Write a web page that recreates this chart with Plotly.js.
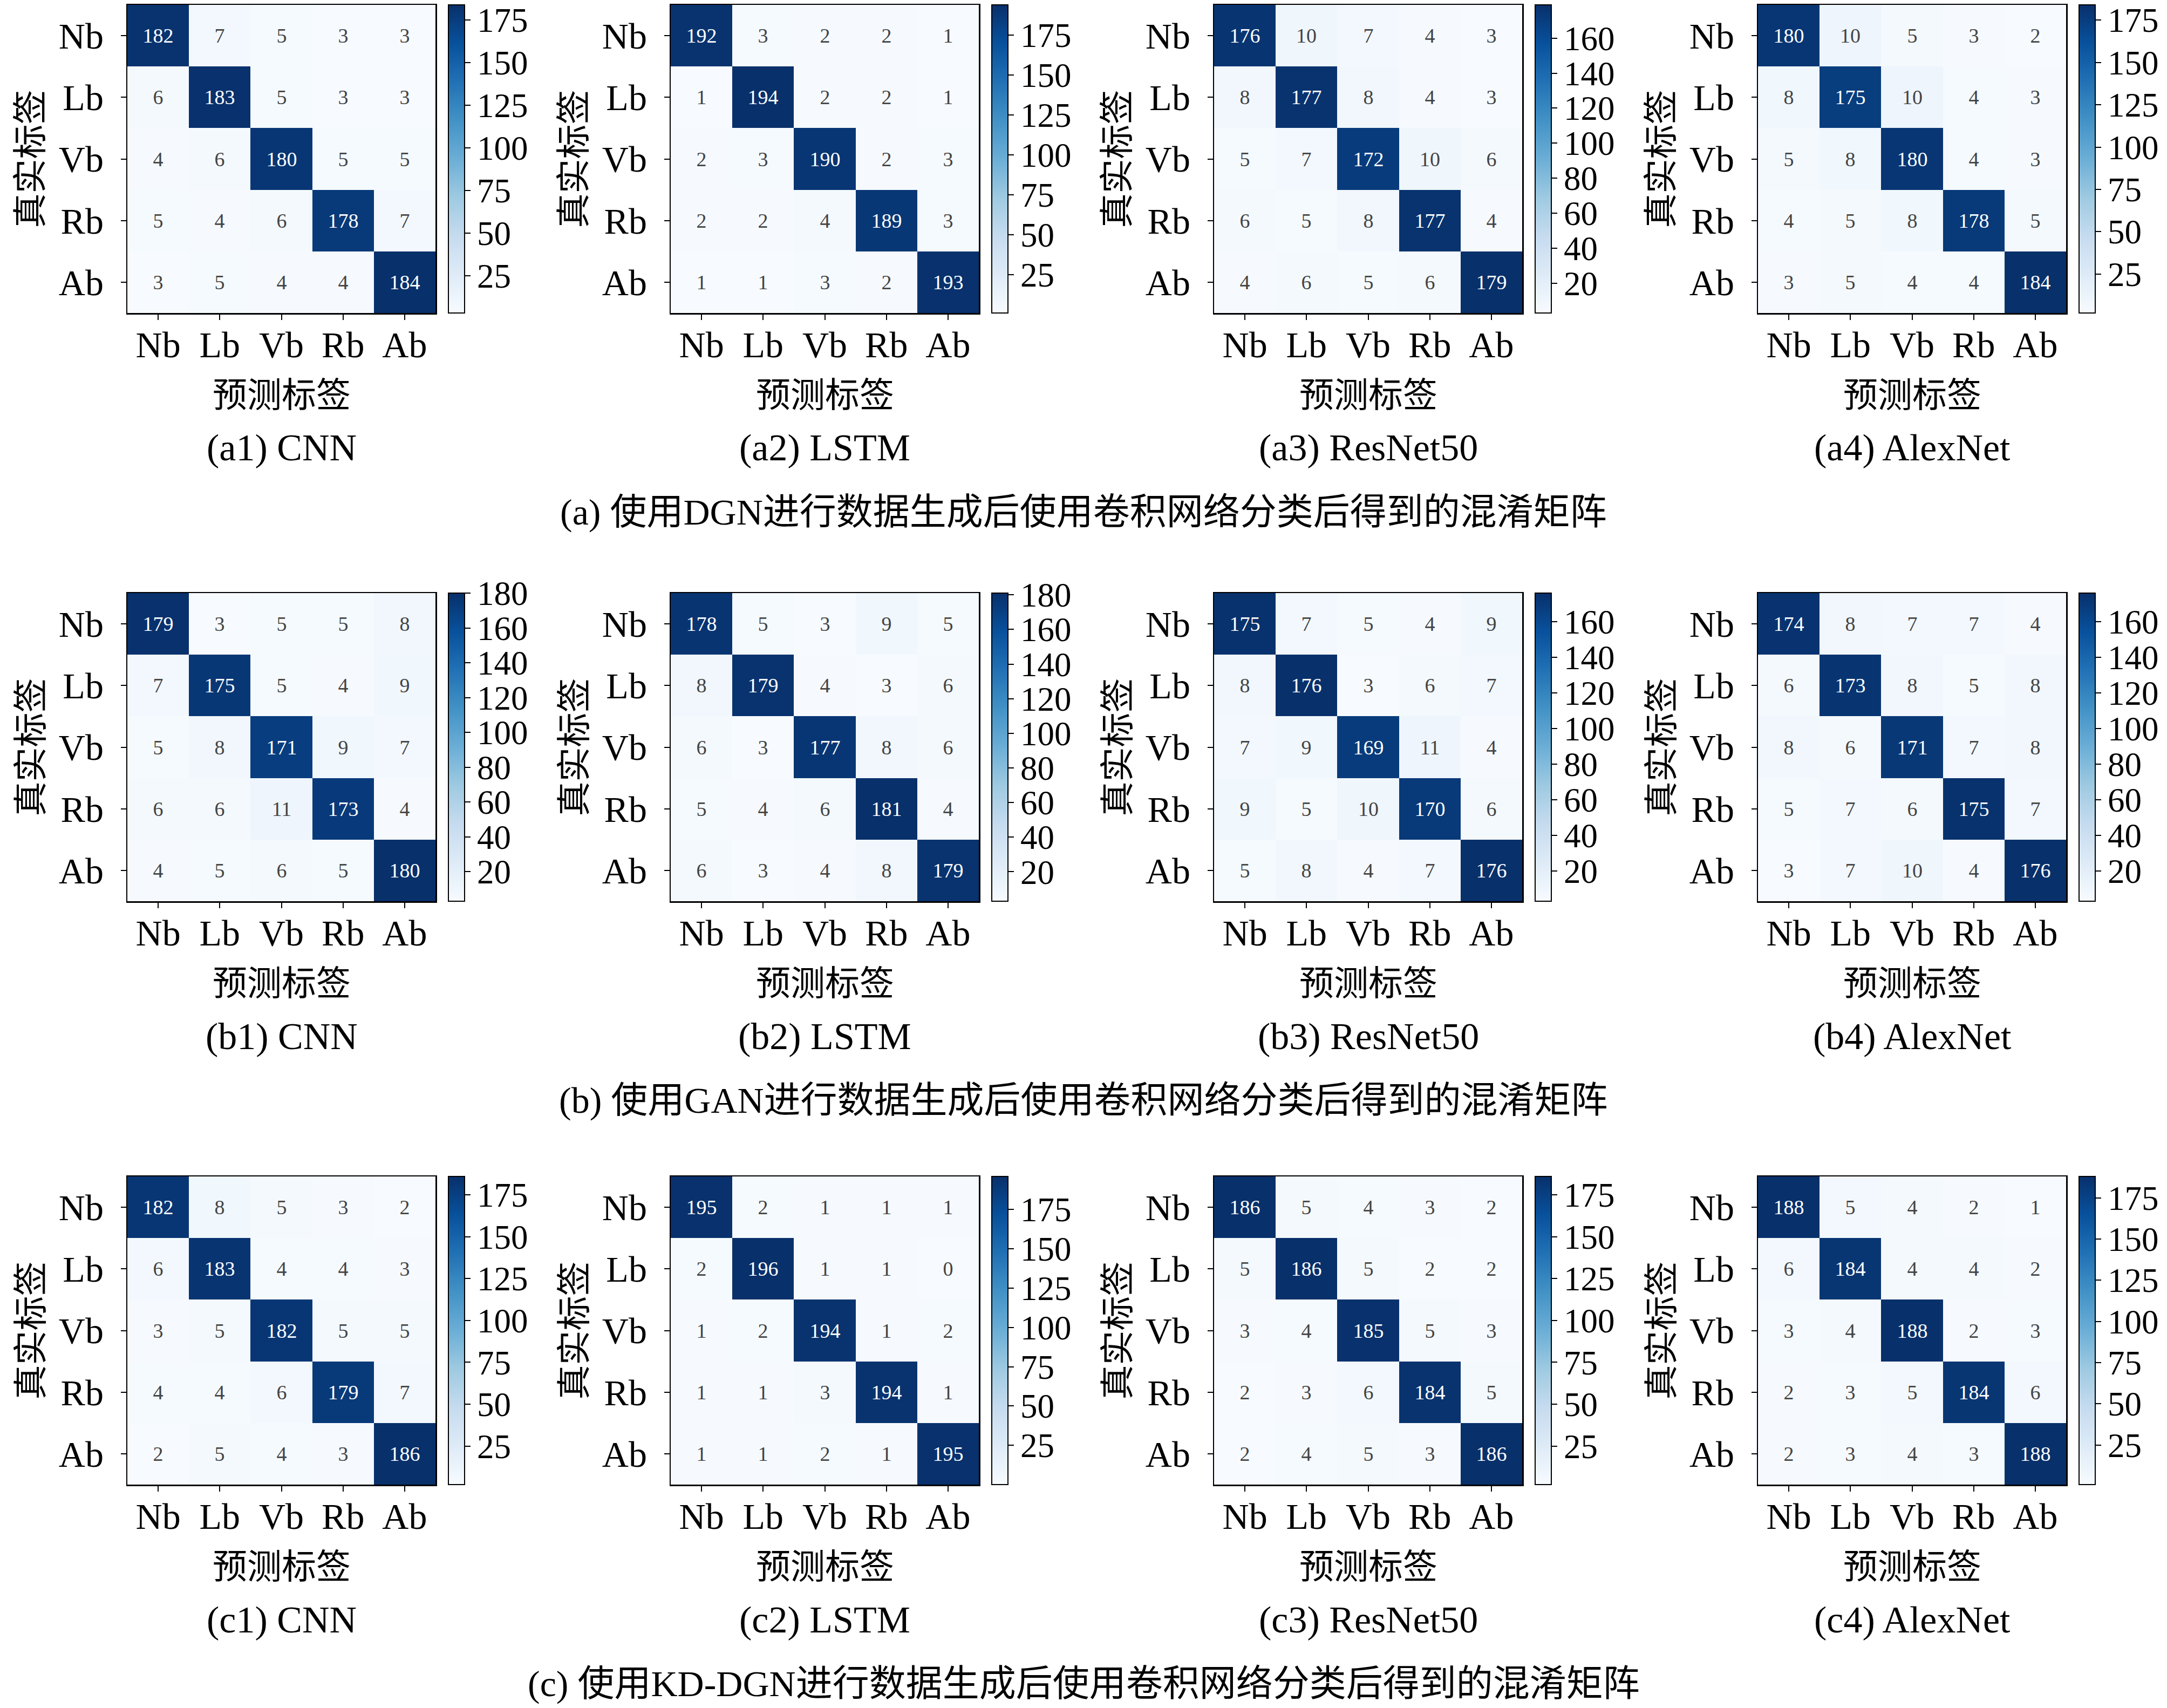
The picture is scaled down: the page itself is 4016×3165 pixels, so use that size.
<!DOCTYPE html>
<html>
<head>
<meta charset="utf-8">
<script src="https://cdn.plot.ly/plotly-3.0.1.min.js"></script>
<style>
  html, body { margin: 0; padding: 0; background: #fff; }
  #plot { width: 4016px; height: 3165px; }
</style>
</head>
<body>
<div id="plot"></div>
<script>
"use strict";

var labels = ['Nb', 'Lb', 'Vb', 'Rb', 'Ab'];
var models = ['CNN', 'LSTM', 'ResNet50', 'AlexNet'];
var rowTags = ['a', 'b', 'c'];
var rowCaptions = [
  '(a) 使用DGN进行数据生成后使用卷积网络分类后得到的混淆矩阵',
  '(b) 使用GAN进行数据生成后使用卷积网络分类后得到的混淆矩阵',
  '(c) 使用KD-DGN进行数据生成后使用卷积网络分类后得到的混淆矩阵'
];

// DGN
var dgnCnn = [[182, 7, 5, 3, 3], [6, 183, 5, 3, 3], [4, 6, 180, 5, 5], [5, 4, 6, 178, 7], [3, 5, 4, 4, 184]];
var dgnLstm = [[192, 3, 2, 2, 1], [1, 194, 2, 2, 1], [2, 3, 190, 2, 3], [2, 2, 4, 189, 3], [1, 1, 3, 2, 193]];
var dgnResnet = [[176, 10, 7, 4, 3], [8, 177, 8, 4, 3], [5, 7, 172, 10, 6], [6, 5, 8, 177, 4], [4, 6, 5, 6, 179]];
var dgnAlexnet = [[180, 10, 5, 3, 2], [8, 175, 10, 4, 3], [5, 8, 180, 4, 3], [4, 5, 8, 178, 5], [3, 5, 4, 4, 184]];
// GAN
var ganCnn = [[179, 3, 5, 5, 8], [7, 175, 5, 4, 9], [5, 8, 171, 9, 7], [6, 6, 11, 173, 4], [4, 5, 6, 5, 180]];
var ganLstm = [[178, 5, 3, 9, 5], [8, 179, 4, 3, 6], [6, 3, 177, 8, 6], [5, 4, 6, 181, 4], [6, 3, 4, 8, 179]];
var ganResnet = [[175, 7, 5, 4, 9], [8, 176, 3, 6, 7], [7, 9, 169, 11, 4], [9, 5, 10, 170, 6], [5, 8, 4, 7, 176]];
var ganAlexnet = [[174, 8, 7, 7, 4], [6, 173, 8, 5, 8], [8, 6, 171, 7, 8], [5, 7, 6, 175, 7], [3, 7, 10, 4, 176]];
// KD-DGN
var kdCnn = [[182, 8, 5, 3, 2], [6, 183, 4, 4, 3], [3, 5, 182, 5, 5], [4, 4, 6, 179, 7], [2, 5, 4, 3, 186]];
var kdLstm = [[195, 2, 1, 1, 1], [2, 196, 1, 1, 0], [1, 2, 194, 1, 2], [1, 1, 3, 194, 1], [1, 1, 2, 1, 195]];
var kdResnet = [[186, 5, 4, 3, 2], [5, 186, 5, 2, 2], [3, 4, 185, 5, 3], [2, 3, 6, 184, 5], [2, 4, 5, 3, 186]];
var kdAlexnet = [[188, 5, 4, 2, 1], [6, 184, 4, 4, 2], [3, 4, 188, 2, 3], [2, 3, 5, 184, 6], [2, 3, 4, 3, 188]];

var matrices = [
  [dgnCnn, dgnLstm, dgnResnet, dgnAlexnet],
  [ganCnn, ganLstm, ganResnet, ganAlexnet],
  [kdCnn, kdLstm, kdResnet, kdAlexnet]
];
// colorbar tick spacing per panel
var cbSteps = [
  [25, 25, 20, 25],
  [20, 20, 20, 20],
  [25, 25, 25, 25]
];

// matplotlib "Blues"
var BLUES = [
  [0, '#f7fbff'], [0.125, '#deebf7'], [0.25, '#c6dbef'], [0.375, '#9ecae1'],
  [0.5, '#6baed6'], [0.625, '#4292c6'], [0.75, '#2171b5'], [0.875, '#08519c'], [1, '#08306b']
];

var W = 4016, H = 3165;
var SIZE = 571;
var colLeft = [236, 1243, 2250, 3258];
var rowTop = [9, 1099, 2180];
var SERIF = 'Liberation Serif, "Noto Sans CJK SC", serif';
var CJK = '"Noto Sans CJK SC", Liberation Serif, sans-serif';

function px(x) { return x / W; }
function py(y) { return 1 - y / H; }

function ticksFor(z, step) {
  var flat = [].concat.apply([], z);
  var lo = Math.min.apply(null, flat), hi = Math.max.apply(null, flat);
  var vals = [];
  for (var v = step; v <= hi; v += step) {
    if (v >= lo) vals.push(v);
  }
  return vals;
}

var data = [];
var layout = {
  width: W,
  height: H,
  margin: {l: 0, r: 0, t: 0, b: 0},
  paper_bgcolor: 'white',
  plot_bgcolor: 'white',
  font: {family: SERIF, color: 'black'},
  showlegend: false,
  annotations: []
};

function addPanel(r, c, n) {
  var suffix = n === 1 ? '' : String(n);
  var x0 = colLeft[c], y0 = rowTop[r];
  var x1 = x0 + SIZE, y1 = y0 + SIZE;
  var z = matrices[r][c];

  data.push({
    type: 'heatmap',
    x: labels,
    y: labels,
    z: z,
    xaxis: 'x' + suffix,
    yaxis: 'y' + suffix,
    colorscale: BLUES,
    showscale: true,
    texttemplate: '%{z}',
    textfont: {family: SERIF, size: 38},
    hoverinfo: 'skip',
    colorbar: {
      x: px(x1 + 24),
      xanchor: 'left',
      xpad: 0,
      y: py(y1),
      yanchor: 'bottom',
      ypad: 0,
      len: SIZE,
      lenmode: 'pixels',
      thickness: 30,
      thicknessmode: 'pixels',
      outlinewidth: 2,
      outlinecolor: 'black',
      ticks: 'outside',
      ticklen: 10,
      tickwidth: 2,
      tickcolor: 'black',
      tickvals: ticksFor(z, cbSteps[r][c]),
      tickfont: {family: SERIF, size: 63, color: 'black'}
    }
  });

  var axisCommon = {
    showline: true,
    mirror: true,
    linecolor: 'black',
    linewidth: 2.5,
    ticks: 'outside',
    ticklen: 10,
    tickwidth: 2,
    tickcolor: 'black',
    tickfont: {family: SERIF, size: 68, color: 'black'},
    showgrid: false,
    zeroline: false,
    fixedrange: true
  };
  layout['xaxis' + suffix] = Object.assign({}, axisCommon, {
    domain: [px(x0), px(x1)],
    anchor: 'y' + suffix,
    side: 'bottom',
    ticklabelstandoff: -12
  });
  layout['yaxis' + suffix] = Object.assign({}, axisCommon, {
    domain: [py(y1), py(y0)],
    anchor: 'x' + suffix,
    autorange: 'reversed',
    ticklabelstandoff: 18
  });

  // axis titles and subcaption
  layout.annotations.push({
    xref: 'paper', yref: 'paper',
    x: px(x0 + SIZE / 2), y: py(y1 + 146),
    xanchor: 'center', yanchor: 'middle',
    text: '预测标签', showarrow: false,
    font: {family: CJK, size: 64, color: 'black'}
  });
  layout.annotations.push({
    xref: 'paper', yref: 'paper',
    x: px(x0 - 186), y: py(y0 + SIZE / 2),
    xanchor: 'center', yanchor: 'middle',
    text: '真实标签', textangle: -90, showarrow: false,
    font: {family: CJK, size: 64, color: 'black'}
  });
  layout.annotations.push({
    xref: 'paper', yref: 'paper',
    x: px(x0 + SIZE / 2), y: py(y1 + 250),
    xanchor: 'center', yanchor: 'middle',
    text: '(' + rowTags[r] + (c + 1) + ') ' + models[c], showarrow: false,
    font: {family: SERIF, size: 70, color: 'black'}
  });
}

var n = 0;
for (var r = 0; r < 3; ++r) {
  for (var c = 0; c < 4; ++c) {
    addPanel(r, c, ++n);
  }
  layout.annotations.push({
    xref: 'paper', yref: 'paper',
    x: 0.5, y: py(rowTop[r] + SIZE + 369),
    xanchor: 'center', yanchor: 'middle',
    text: rowCaptions[r], showarrow: false,
    font: {family: SERIF, size: 68, color: 'black'}
  });
}

Plotly.newPlot('plot', data, layout, {staticPlot: true});
</script>
</body>
</html>
